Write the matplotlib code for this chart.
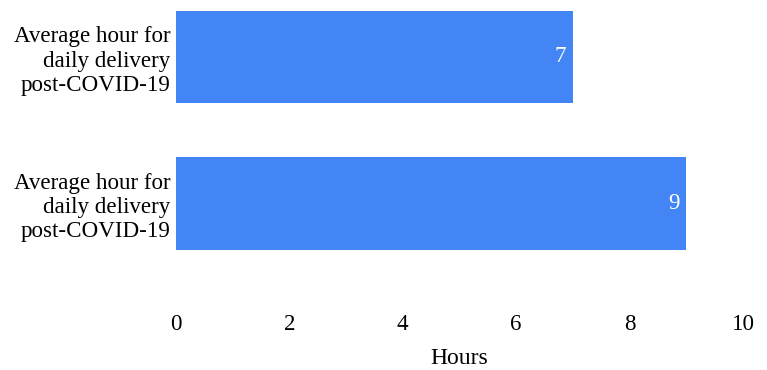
import matplotlib.pyplot as plt
from matplotlib.transforms import ScaledTranslation

# data
categories = ["Average hour for\ndaily delivery\npost-COVID-19",
              "Average hour for\ndaily delivery\npost-COVID-19"]
hours = [9, 7]          # bottom bar first, then top bar
x_ticks = [0, 2, 4, 6, 8, 10]

plt.rcParams['font.family'] = ['Liberation Serif', 'DejaVu Serif']
fs = 16.6

fig = plt.figure(figsize=(7.67, 3.70), dpi=100)
ax = fig.add_axes([176 / 767, 70 / 370, 567 / 767, 300 / 370])

pos = list(range(len(hours)))
bars = ax.barh(pos, hours, height=0.63, color='#4385F5')

for p, v in zip(pos, hours):
    ax.text(v - 0.12, p, str(v), color='white', fontsize=fs,
            ha='right', va='center')

ax.set_xlim(0, 10)
ax.set_ylim(-0.659, 1.389)
ax.set_xticks(x_ticks)
ax.set_xticklabels([str(t) for t in x_ticks], fontsize=fs)
ax.set_yticks(pos)
ax.set_yticklabels(categories, fontsize=fs, multialignment='right')
# labels sit a few pixels below the bar centres in the reference
shift = ScaledTranslation(0, -5 / 100, fig.dpi_scale_trans)
for lbl in ax.get_yticklabels():
    lbl.set_transform(lbl.get_transform() + shift)
ax.tick_params(axis='both', length=0)
ax.tick_params(axis='x', pad=10)
ax.tick_params(axis='y', pad=4)
ax.set_xlabel("Hours", fontsize=17, labelpad=9.5)

for s in ax.spines.values():
    s.set_visible(False)

fig.savefig('out.png', dpi=100)
